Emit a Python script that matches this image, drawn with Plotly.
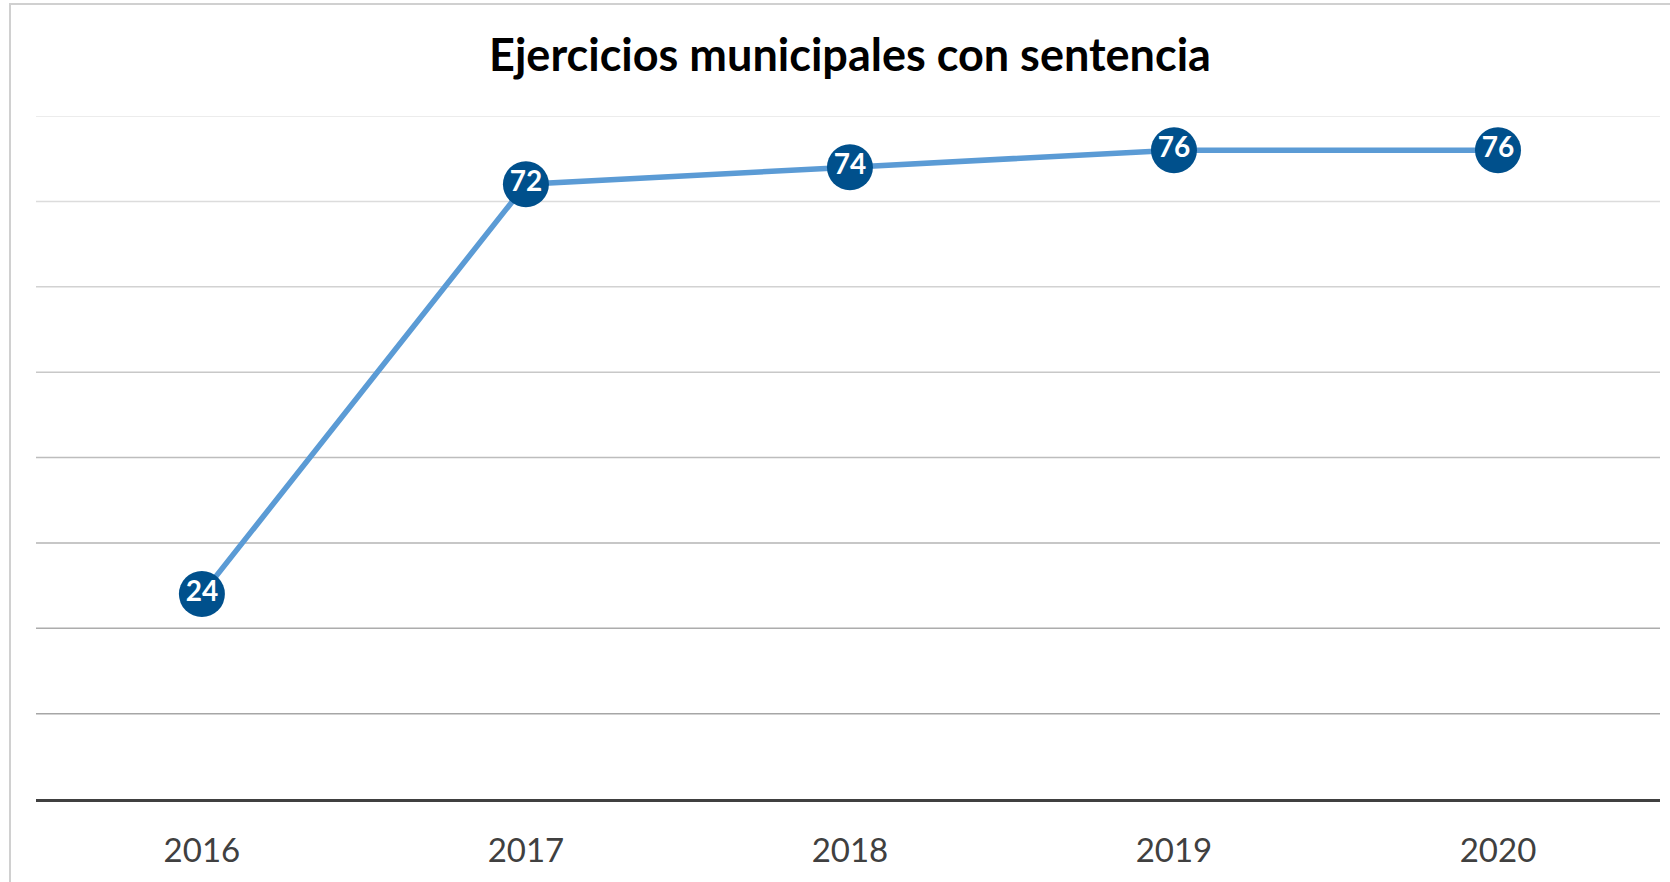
import plotly.graph_objects as go

years = ["2016", "2017", "2018", "2019", "2020"]
values = [24, 72, 74, 76, 76]
grid_values = [10, 20, 30, 40, 50, 60, 70, 80]
grid_colors = ["#a6a6a6", "#acacac", "#b4b4b4", "#bdbdbd", "#c8c8c8", "#d2d2d2", "#dcdcdc", "#e6e6e6"]
title_text = "Ejercicios municipales con sentencia"

fig = go.Figure()
fig.add_trace(go.Scatter(
    x=years, y=values, mode="lines+markers+text",
    text=["<b>%d</b>" % v for v in values], textposition="middle center",
    textfont=dict(family="Lato", size=28, color="white"),
    line=dict(color="#5b9bd5", width=5.5),
    marker=dict(size=46, color="#00508c", line=dict(width=0)),
    cliponaxis=False, hoverinfo="skip",
))

shapes = []
for gv, gc in zip(grid_values, grid_colors):
    shapes.append(dict(type="line", xref="paper", yref="y", x0=0, x1=1, y0=gv, y1=gv,
                       line=dict(color=gc, width=1.5), layer="below"))
# chart border
shapes.append(dict(type="rect", xref="paper", yref="paper", x0=-0.016, x1=1.05, y0=-0.3, y1=1.164,
                   line=dict(color="#d0d0d0", width=2), layer="below"))

fig.update_layout(
    width=1670, height=882,
    margin=dict(l=36, r=10, t=116, b=83),
    paper_bgcolor="white", plot_bgcolor="white",
    showlegend=False,
    title=dict(text="<b>" + title_text + "</b>", xref="container", x=0.509, xanchor="center",
               yref="container", y=1 - 55 / 882, yanchor="middle",
               font=dict(family="Lato", size=45, color="black")),
    xaxis=dict(type="category", range=[-0.512, 4.5], showline=True, linecolor="#404040", linewidth=3,
               showgrid=False, zeroline=False, ticks="outside", ticklen=20, tickcolor="rgba(0,0,0,0)",
               tickfont=dict(family="Lato", size=33, color="#404040"), fixedrange=True),
    yaxis=dict(range=[0, 80], showticklabels=False, showgrid=False, zeroline=False, showline=False,
               fixedrange=True),
    shapes=shapes,
)

fig.write_html("out.html", config={"displayModeBar": False, "staticPlot": True},
               post_script="document.body.style.margin='0';document.body.style.overflow='hidden';")
